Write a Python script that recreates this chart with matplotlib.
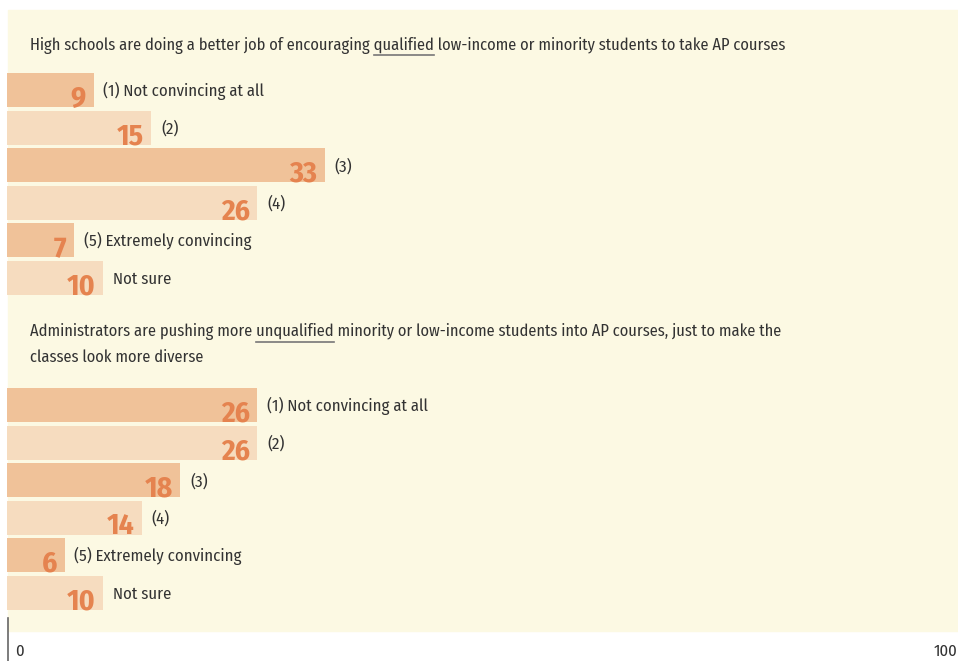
import matplotlib.pyplot as plt
from matplotlib import font_manager
from matplotlib.patches import Rectangle

installed = set(f.name for f in font_manager.fontManager.ttflist)
font = 'DejaVu Sans'
for cand in ['Fira Sans Condensed', 'Roboto Condensed', 'PT Sans Narrow',
             'Archivo Narrow', 'Liberation Sans Narrow', 'Roboto']:
    if cand in installed:
        font = cand
        break
plt.rcParams['font.family'] = [font, 'DejaVu Sans']

title1 = ['High schools are doing a better job of encouraging ', 'qualified',
          ' low-income or minority students to take AP courses']
title2 = ['Administrators are pushing more ', 'unqualified',
          ' minority or low-income students into AP courses, just to make the']
title2b = 'classes look more diverse'

labels = ['(1) Not convincing at all', '(2)', '(3)', '(4)',
          '(5) Extremely convincing', 'Not sure']
q1_values = [9, 15, 33, 26, 7, 10]
q2_values = [26, 26, 18, 14, 6, 10]

dark = '#f0c299'
light = '#f6dcbf'
num_color = '#e5834f'
text_color = '#333333'

W, H = 958, 661
fig = plt.figure(figsize=(W / 100, H / 100), dpi=100)
fig.patch.set_facecolor('white')
fig.patches.append(Rectangle((8 / W, 1 - 631 / H), 950 / W, 621 / H,
                             transform=fig.transFigure, color='#fcf9e3', zorder=-5))
renderer = fig.canvas.get_renderer()


def text_width(s, fs):
    t = fig.text(0, 0, s, fontsize=fs)
    w = t.get_window_extent(renderer).width
    t.remove()
    return w


# pick a text size so the first title spans about 755 px like the reference
title_fs = 10 * 755 / text_width(''.join(title1), 10)
label_fs = title_fs * 1.02

# x in percent, y in pixels from top
ax = fig.add_axes([7 / W, 0, 963 / W, 1])
ax.set_xlim(0, 100)
ax.set_ylim(H, 0)
ax.axis('off')
ax.patch.set_alpha(0)

pitch = 37.6
bar_h = 34


def draw_group(values, top):
    ys = [top + i * pitch for i in range(len(values))]
    colors = [dark if i % 2 == 0 else light for i in range(len(values))]
    ax.barh(ys, values, height=bar_h, color=colors, zorder=2)
    for y, v, lab in zip(ys, values, labels):
        ax.text(v - 0.8, y + bar_h / 2 - 0.5, str(v), ha='right', va='baseline',
                fontsize=title_fs * 1.8, fontweight='bold', color=num_color, zorder=3)
        ax.text(v + 1.0, y + 1, lab, ha='left', va='center', fontsize=label_fs,
                color=text_color, zorder=3)


draw_group(q1_values, 90)
draw_group(q2_values, 405)


def title_line(parts, x_px, y_px):
    fig.text(x_px / W, 1 - y_px / H, ''.join(parts), ha='left', va='center',
             fontsize=title_fs, color=text_color)
    head = parts[0] + parts[1]
    x1 = x_px + text_width(head, title_fs)
    x0 = x1 - text_width(parts[1], title_fs)
    yl = 1 - (y_px + 10) / H
    fig.add_artist(plt.Line2D([x0 / W, x1 / W], [yl, yl], color='#777777', lw=1.2))


title_line(title1, 30, 45)
title_line(title2, 30, 332)
fig.text(30 / W, 1 - 357 / H, title2b, ha='left', va='center',
         fontsize=title_fs, color=text_color)

# axis
fig.add_artist(plt.Line2D([8 / W, 8 / W], [0, 1 - 618 / H], color='#666666', lw=1.2))
ax.text(0.8, 651, '0', ha='left', va='center', fontsize=label_fs, color=text_color)
ax.text(96.2, 651, '100', ha='left', va='center', fontsize=label_fs, color=text_color)

fig.savefig('out.png', dpi=100)
